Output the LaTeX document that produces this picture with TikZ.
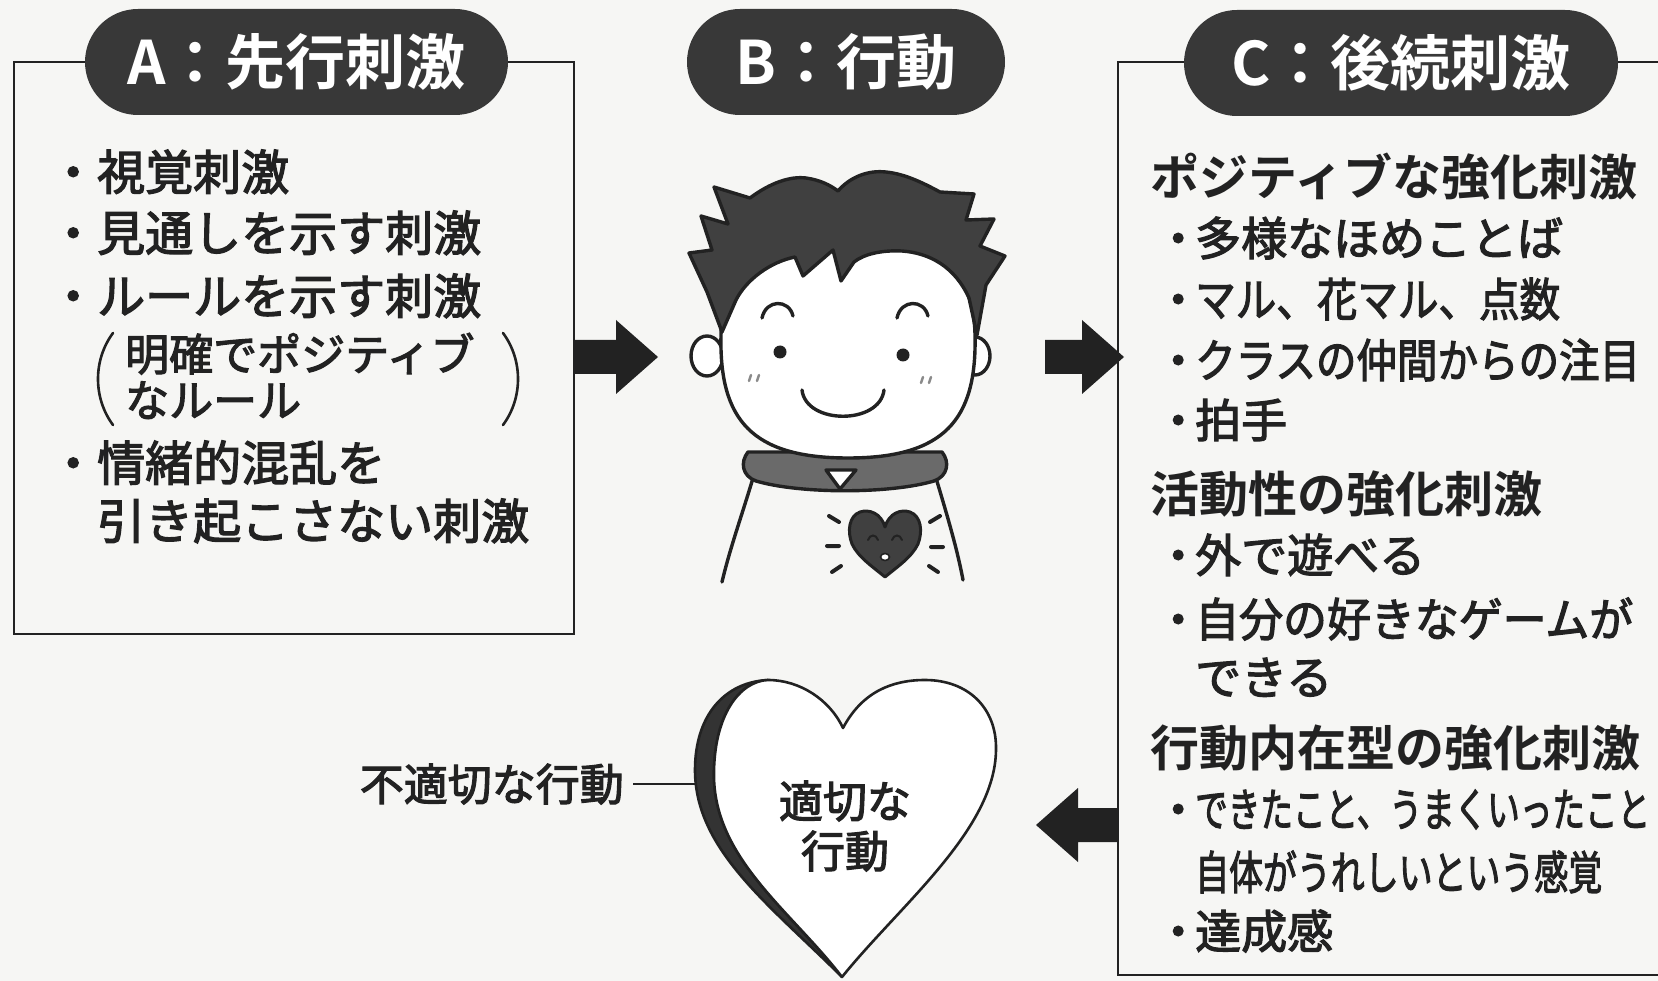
\documentclass[tikz,border=0pt]{standalone}
\usepackage{fontspec}
\usetikzlibrary{calc}
\newfontfamily\jp[FakeBold=2.6]{Noto Sans CJK JP}
\newfontfamily\jpb{Noto Sans CJK JP Bold}
\definecolor{ink}{HTML}{222222}
\definecolor{paper}{HTML}{F6F6F4}
\definecolor{pillgray}{HTML}{383838}
\definecolor{hairgray}{HTML}{404040}
\definecolor{collargray}{HTML}{6A6A6A}
\definecolor{cheekgray}{HTML}{8A8A8A}
\definecolor{shadegray}{HTML}{333333}
\newcommand\fs[1]{\fontsize{#1}{#1}\selectfont}
\newcommand\fitw[2]{\resizebox{#1}{\height}{#2}}
\newcommand\bulL{\llap{・}}
\newcommand\bulR{\llap{・\kern-6pt}}
% thick block arrow: #1 tail, #2 tip, #3 signed head length
\newcommand\blockarrow[3]{%
  \fill[ink] ($(#1)+(0,-17)$) -- ($(#2)+(#3,-17)$) -- ($(#2)+(#3,-37)$) -- (#2)
    -- ($(#2)+(#3,37)$) -- ($(#2)+(#3,17)$) -- ($(#1)+(0,17)$) -- cycle;}
\tikzset{
  frame/.style={draw=ink, line width=2.6pt, rectangle, inner sep=0pt, outer sep=0pt, anchor=north west},
  pill/.style={fill=pillgray, rounded corners=53pt, minimum height=106pt, text=white,
    font=\jpb\fs{60}, inner sep=0pt, text height=53pt, text depth=7pt},
  txt/.style={inner sep=0pt, anchor=west, text=ink},
  lbody/.style={txt, font=\jp\fs{48}, text height=42pt, text depth=6pt},
  lsmall/.style={txt, font=\jp\fs{44}, text height=38.7pt, text depth=5.3pt},
  rhead/.style={txt, font=\jpb\fs{49}, text height=43pt, text depth=6pt},
  rbody/.style={txt, font=\jp\fs{46}, text height=40.5pt, text depth=5.5pt},
  hbody/.style={txt, font=\jp\fs{44}, text height=38.7pt, text depth=5.3pt},
  faceline/.style={draw=ink, line width=3.4pt, line join=round, line cap=round},
  thinline/.style={draw=ink, line width=2.6pt, line cap=round},
}
\begin{document}
\begin{tikzpicture}[x=1pt, y=-1pt]
\clip (0,0) rectangle (1658,981);
\fill[paper] (0,0) rectangle (1658,981);

% frames of the A and C panels
\node[frame, minimum width=560pt, minimum height=572pt] (boxA) at (14,62) {};
\node[frame, minimum width=640pt, minimum height=913pt] (boxC) at (1118,62) {};

% title pills
\node[pill, minimum width=423pt] (pA) at (296.5,62) {A：先行刺激};
\node[pill, minimum width=318pt] (pB) at (846,62) {B：行動};
\node[pill, minimum width=434pt] (pC) at (1401,63) {C：後続刺激};

% A: antecedent stimuli
\node[lbody] (a1) at (97,172) {\bulL 視覚刺激};
\node[lbody] (a2) at (97,233) {\bulL 見通しを示す刺激};
\node[lbody] (a3) at (97,296) {\bulL ルールを示す刺激};
\node[lsmall] (a4) at (125,354) {明確でポジティブ};
\node[lsmall] (a5) at (125,400) {なルール};
\draw[thinline] (113,333) .. controls (93,360) and (93,398) .. (113,425);
\draw[thinline] (503,333) .. controls (523,360) and (523,398) .. (503,425);
\node[lbody] (a6) at (97,463) {\bulL 情緒的混乱を};
\node[lbody] (a7) at (97,521) {引き起こさない刺激};

% C: consequent stimuli
\node[rhead] (c1) at (1150,177) {ポジティブな強化刺激};
\node[rbody] (c2) at (1195,238) {\bulR 多様なほめことば};
\node[rbody] (c3) at (1195,299) {\bulR\fitw{365pt}{マル、花マル、点数}};
\node[rbody] (c4) at (1195,360) {\bulR\fitw{445pt}{クラスの仲間からの注目}};
\node[rbody] (c5) at (1195,420) {\bulR 拍手};
\node[rhead] (c6) at (1150,494) {活動性の強化刺激};
\node[rbody] (c7) at (1195,555) {\bulR 外で遊べる};
\node[rbody] (c8) at (1195,619) {\bulR\fitw{438pt}{自分の好きなゲームが}};
\node[rbody] (c9) at (1195,677) {できる};
\node[rhead] (c10) at (1150,748) {行動内在型の強化刺激};
\node[rbody] (c11) at (1195,809) {\bulR\fitw{455pt}{できたこと、うまくいったこと}};
\node[rbody] (c12) at (1195,872) {\fitw{407pt}{自体がうれしいという感覚}};
\node[rbody] (c13) at (1195,931) {\bulR 達成感};

% block arrows between the panels
\coordinate (t1) at (boxA.east |- 0,357);
\coordinate (h1) at (658,357);
\blockarrow{t1}{h1}{-42}
\coordinate (t2) at (1045,357);
\coordinate (h2) at (1124,357);
\blockarrow{t2}{h2}{-42}
\coordinate (t3) at (boxC.west |- 0,825);
\coordinate (h3) at (1036,825);
\blockarrow{t3}{h3}{42}

% the boy
\draw[faceline, fill=white] (707,356) ellipse [x radius=16, y radius=20];
\draw[faceline, fill=white] (975,356) ellipse [x radius=15, y radius=19];
\draw[faceline] (753,478) .. controls (742,515) and (730,548) .. (722,582);
\draw[faceline] (936,478) .. controls (947,515) and (957,548) .. (963,580);
\draw[faceline, fill=collargray] (748,452) .. controls (740,462) and (742,476) .. (756,481)
  .. controls (800,494) and (890,494) .. (934,481) .. controls (948,476) and (950,462) .. (942,452) -- cycle;
\draw[faceline, fill=white] (721,335) .. controls (719,420) and (752,458) .. (848,458)
  .. controls (944,458) and (977,420) .. (975,335) .. controls (974,262) and (920,225) .. (848,225)
  .. controls (776,225) and (722,262) .. cycle;
\draw[faceline, fill=hairgray] (722,332) -- (707,292) -- (689,253) -- (712,250) -- (701,216)
  -- (728,224) -- (714,187) -- (750,198) .. controls (770,183) and (790,176) .. (806,178)
  .. controls (820,180) and (830,185) .. (838,191) .. controls (850,177) and (868,170) .. (886,172)
  .. controls (906,174) and (925,184) .. (940,192) -- (974,194) -- (966,220) -- (994,219)
  -- (980,246) -- (1005,256) -- (986,285) -- (977,335) -- (969,298)
  .. controls (955,267) and (930,253) .. (902,251) .. controls (882,250) and (864,254) .. (854,262)
  -- (841,281) -- (833,250) -- (803,276) -- (795,257)
  .. controls (770,262) and (746,280) .. (736,300) -- cycle;
% eyes, brows, cheeks, mouth
\draw[faceline] (762,318) .. controls (766,299) and (789,299) .. (793,316);
\draw[faceline] (897,318) .. controls (901,299) and (924,299) .. (928,316);
\fill[ink] (780,352) circle [radius=6.5];
\fill[ink] (903,355) circle [radius=6.5];
\draw[cheekgray, line width=2.4pt, line cap=round] (749,381) -- (751,375) (757,381) -- (759,375)
  (921,383) -- (923,377) (929,383) -- (931,377);
\draw[faceline] (802,390) .. controls (806,425) and (880,425) .. (884,390);
\draw[faceline, fill=white] (826,470) -- (856,470) -- (840,489) -- cycle;
% heart on the shirt
\draw[faceline, line width=3pt, fill=hairgray] (885,527) .. controls (889,513) and (901,509) .. (910,512)
  .. controls (921,516) and (923,531) .. (918,544) .. controls (912,557) and (897,567) .. (885,577)
  .. controls (873,567) and (858,557) .. (852,544) .. controls (847,531) and (849,516) .. (860,512)
  .. controls (869,509) and (881,513) .. (885,527) -- cycle;
\draw[ink, line width=2pt, line cap=round] (868,540) .. controls (870,534) and (876,534) .. (878,540);
\draw[ink, line width=2pt, line cap=round] (892,540) .. controls (894,534) and (900,534) .. (902,540);
\draw[ink, line width=1.6pt, fill=white] (885,557) ellipse [x radius=4.5, y radius=3.5];
\draw[ink, line width=4pt, line cap=round] (829,516) -- (839,522) (827,546) -- (839,546) (832,572) -- (841,566)
  (930,522) -- (940,516) (931,547) -- (943,547) (929,566) -- (938,572);

% the heart of appropriate behaviour
\draw[ink, line width=2.6pt, line join=round, fill=shadegray] (768,680) .. controls (740,681) and (713,715) .. (714,778)
  .. controls (716,860) and (792,912) .. (842,977)
  .. controls (770,905) and (695,850) .. (695,770) .. controls (695,715) and (725,682) .. (768,680) -- cycle;
\draw[ink, line width=2.6pt, line join=round, fill=white] (843,728) .. controls (862,692) and (892,680) .. (925,680)
  .. controls (968,680) and (997,708) .. (996,750) .. controls (995,830) and (900,905) .. (842,977)
  .. controls (792,912) and (716,860) .. (714,778) .. controls (713,715) and (740,681) .. (768,680)
  .. controls (800,680) and (830,700) .. (843,728) -- cycle;
\coordinate (heartL) at (696,784);
\node[hbody, anchor=center] (h1t) at (845,801) {適切な};
\node[hbody, anchor=center] (h2t) at (845,851) {行動};
\node[hbody, anchor=east] (bad) at (624,784) {不適切な行動};
\draw[ink, line width=2.4pt] (bad.east) ++(9,0) -- (heartL);
\end{tikzpicture}
\end{document}
